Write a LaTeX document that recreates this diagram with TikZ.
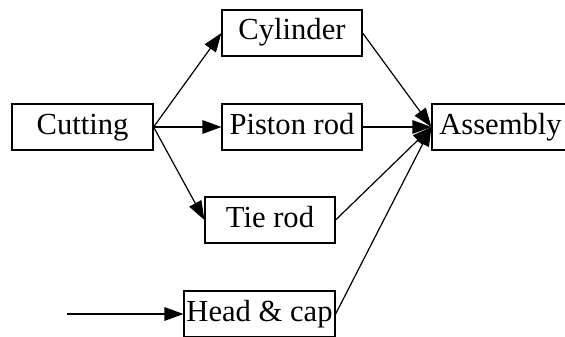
\documentclass[tikz,border=0pt]{standalone}
\usepackage{fontspec}
\setmainfont{Liberation Serif}
\usetikzlibrary{arrows.meta}

\begin{document}
\begin{tikzpicture}[x=0.5pt,y=0.5pt]
\tikzstyle{every node}+=[inner sep=0pt, font=\fontsize{15.3}{18}\selectfont]
\tikzstyle{stage}=[draw=black, line width=0.6pt, minimum height=23pt, text height=10pt, text depth=3pt]
\tikzstyle{flow}=[line width=0.6pt, -{Triangle[length=9.5pt,width=6.8pt]}]
\useasboundingbox (0,0) rectangle (565,-336);
\node [stage, minimum width=70.5pt] (cut) at (82.5,-127) {Cutting};
\node [stage, minimum width=70pt] (cyl) at (292,-33) {Cylinder};
\node [stage, minimum width=70pt] (pis) at (292,-127) {Piston rod};
\node [stage, minimum width=65pt] (tie) at (270,-220) {Tie rod};
\node [stage, minimum width=75.5pt] (head) at (259.5,-314) {Head \& cap};
\node [stage, minimum width=68.5pt] (asm) at (500.5,-127) {Assembly};
\coordinate (feed) at (67,-314);
\draw [flow] (cut.east) -- (cyl.west);
\draw [flow] (cut.east) -- (pis.west);
\draw [flow] (cut.east) -- (tie.west);
\draw [flow] (feed) -- (head.west);
\draw [flow] (cyl.east) -- (asm.west);
\draw [flow] (pis.east) -- (asm.west);
\draw [flow] (tie.east) -- (asm.west);
\draw [flow] (head.east) -- (asm.west);
\end{tikzpicture}
\end{document}
